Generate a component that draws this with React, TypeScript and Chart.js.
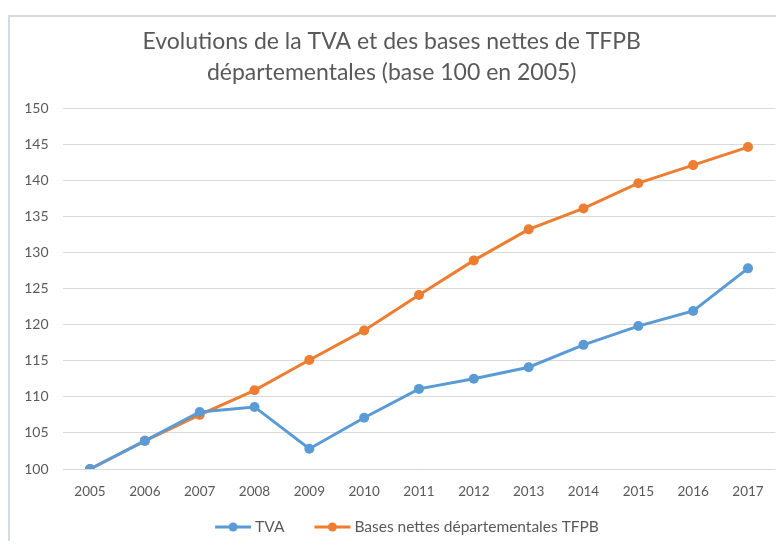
import React, { useEffect, useRef } from "react";
import { Chart, registerables } from "chart.js";

Chart.register(...registerables);

const years = ["2005", "2006", "2007", "2008", "2009", "2010", "2011", "2012", "2013", "2014", "2015", "2016", "2017"];
const tva = [100, 103.9, 107.9, 108.6, 102.8, 107.1, 111.1, 112.5, 114.1, 117.2, 119.8, 121.9, 127.8];
const tfpb = [100, 103.9, 107.5, 110.9, 115.1, 119.2, 124.1, 128.9, 133.2, 136.1, 139.6, 142.1, 144.6];
const titleLines = ["Evolutions de la TVA et des bases nettes de TFPB", "départementales (base 100 en 2005)"];
const seriesNames = ["TVA", "Bases nettes départementales TFPB"];
const yMin = 100;
const yMax = 150;
const yStep = 5;

const BLUE = "#5B9BD5";
const ORANGE = "#ED7D31";
const TEXT = "#595959";
const FONT = "Lato, 'Open Sans', sans-serif";

const framePlugin = {
  id: "frame",
  beforeDraw(chart: any) {
    const ctx = chart.ctx;
    ctx.save();
    ctx.fillStyle = "#ffffff";
    ctx.fillRect(0, 0, chart.width, chart.height);
    ctx.strokeStyle = "#d6dbe0";
    ctx.lineWidth = 2;
    ctx.strokeRect(1, 8, chart.width + 20, chart.height + 20);
    ctx.restore();
  },
};

// Excel-style legend: line with a circle marker, followed by the series name
const excelLegendPlugin = {
  id: "excelLegend",
  afterDraw(chart: any) {
    const ctx = chart.ctx;
    const datasets = chart.data.datasets;
    const markerW = 36;
    const gapText = 4;
    const gapItem = 30;
    ctx.save();
    ctx.font = `15.5px ${FONT}`;
    const widths = datasets.map((d: any) => ctx.measureText(d.label).width);
    const total =
      widths.reduce((a: number, b: number) => a + b, 0) + datasets.length * (markerW + gapText) + (datasets.length - 1) * gapItem;
    let x = chart.width / 2 + 11 - total / 2;
    const y = chart.height - 14;
    datasets.forEach((d: any, i: number) => {
      ctx.strokeStyle = d.borderColor;
      ctx.fillStyle = d.borderColor;
      ctx.lineWidth = 3;
      ctx.beginPath();
      ctx.moveTo(x, y);
      ctx.lineTo(x + markerW, y);
      ctx.stroke();
      ctx.beginPath();
      ctx.arc(x + markerW / 2, y, 4.5, 0, Math.PI * 2);
      ctx.fill();
      ctx.fillStyle = TEXT;
      ctx.textBaseline = "middle";
      ctx.textAlign = "left";
      ctx.fillText(d.label, x + markerW + gapText, y);
      x += markerW + gapText + widths[i] + gapItem;
    });
    ctx.restore();
  },
};

export default function App() {
  const ref = useRef<HTMLCanvasElement>(null);
  useEffect(() => {
    if (!ref.current) return;
    const chart = new Chart(ref.current, {
      type: "line",
      data: {
        labels: years,
        datasets: [
          {
            label: seriesNames[0],
            data: tva,
            borderColor: BLUE,
            backgroundColor: BLUE,
            borderWidth: 3,
            pointRadius: 5,
            pointBorderWidth: 0,
            tension: 0,
          } as any,
          {
            label: seriesNames[1],
            data: tfpb,
            borderColor: ORANGE,
            backgroundColor: ORANGE,
            borderWidth: 3,
            pointRadius: 5,
            pointBorderWidth: 0,
            tension: 0,
          } as any,
        ],
      },
      options: {
        animation: false,
        responsive: false,
        maintainAspectRatio: false,
        layout: { padding: { top: 0, left: 0, right: 8.6, bottom: 42 } },
        elements: { point: { pointStyle: "circle" } },
        plugins: {
          title: {
            display: true,
            text: titleLines,
            color: TEXT,
            font: { family: FONT, size: 23, weight: "normal", lineHeight: 1.35 },
            padding: { top: 18, bottom: 20 },
          },
          legend: { display: false },
          tooltip: { enabled: false },
        },
        scales: {
          x: {
            offset: true,
            grid: { display: false, drawTicks: false },
            border: { display: false },
            ticks: { color: TEXT, font: { family: FONT, size: 13.5 }, padding: 15, maxRotation: 0 },
            afterFit: (s: any) => {
              s.height = 30;
            },
          },
          y: {
            min: yMin,
            max: yMax,
            grid: { color: "#d9d9d9", lineWidth: 1, drawTicks: false },
            border: { display: false },
            ticks: { stepSize: yStep, color: TEXT, font: { family: FONT, size: 14 }, padding: 14 },
            afterFit: (s: any) => {
              s.width = 54.6;
            },
          },
        },
      },
      plugins: [framePlugin, excelLegendPlugin],
    } as any);
    return () => chart.destroy();
  }, []);
  return (
    <div style={{ width: 776, height: 533 }}>
      <canvas ref={ref} width={776} height={533} style={{ display: "block" }} />
    </div>
  );
}
